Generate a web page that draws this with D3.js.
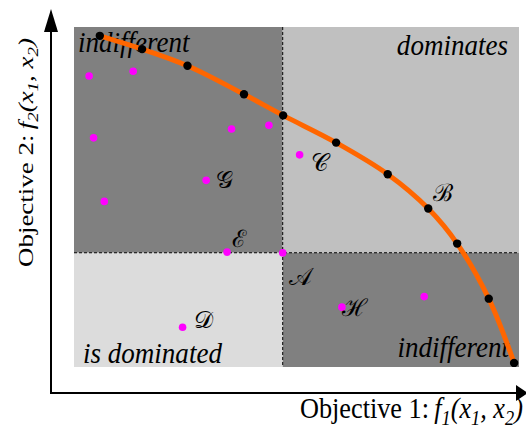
<!DOCTYPE html>
<html><head><meta charset="utf-8">
<script src="https://cdn.jsdelivr.net/npm/d3@7"></script>
<style>body{margin:0;background:#fff;} svg{display:block}</style>
</head><body>
<svg id="c" width="526" height="431"></svg>
<script>
// ---- data ----
const frontX = [0.58, 1.53, 2.55, 3.82, 4.70, 5.89, 7.05, 7.96, 8.61, 9.32, 9.89];
const frontY = [9.74, 9.35, 8.86, 8.02, 7.40, 6.60, 5.67, 4.66, 3.63, 2.01, 0.12];
const popX = [0.34, 1.33, 0.44, 0.68, 2.97, 3.54, 4.38, 5.07, 3.44, 2.44, 4.69, 6.02, 7.87];
const popY = [8.56, 8.70, 6.74, 4.87, 5.49, 7.00, 7.11, 6.24, 3.38, 1.17, 3.36, 1.76, 2.07];
const refX = 4.69, refY = 3.36;            // point A splits the space
const regionNames = ["indifferent", "dominates", "is dominated", "indifferent"];
const pointLabelNames = ["\u{1D4A2}", "\u{1D49E}", "\u2130", "\u{1D49F}", "\u{1D49C}", "\u210B"]; // G C E D A H
const pointLabelIdx = [4, 7, 8, 9, 10, 11];
const frontLabelName = "\u212C"; // B
const frontLabelIdx = 7;
const xAxisTitle = ["Objective 1:", "f", "1", "(x", "1", ", x", "2", ")"];
const yAxisTitle = ["Objective 2:", "f", "2", "(x", "1", ", x", "2", ")"];

// ---- layout ----
const svg = d3.select("#c");
const x = d3.scaleLinear().domain([0, 10]).range([74, 519]);
const y = d3.scaleLinear().domain([0, 10]).range([367, 27]);
const serif = "'Liberation Serif','Times New Roman',serif";

// regions
const regions = [
  {x0: 0, x1: refX, y0: refY, y1: 10, fill: "#808080"},
  {x0: refX, x1: 10, y0: refY, y1: 10, fill: "#c0c0c0"},
  {x0: 0, x1: refX, y0: 0, y1: refY, fill: "#dcdcdc"},
  {x0: refX, x1: 10, y0: 0, y1: refY, fill: "#808080"}
];
svg.selectAll("rect.reg").data(regions).join("rect")
  .attr("x", d => x(d.x0)).attr("y", d => y(d.y1))
  .attr("width", d => x(d.x1) - x(d.x0)).attr("height", d => y(d.y0) - y(d.y1))
  .attr("fill", d => d.fill);

// dashed separators
svg.append("line").attr("x1", x(refX)).attr("x2", x(refX)).attr("y1", y(10)).attr("y2", y(0))
  .attr("stroke", "#000").attr("stroke-width", 1).attr("stroke-dasharray", "3,2");
svg.append("line").attr("x1", x(0)).attr("x2", x(10)).attr("y1", y(refY)).attr("y2", y(refY))
  .attr("stroke", "#000").attr("stroke-width", 1).attr("stroke-dasharray", "3,2");

// region labels
const regText = [
  {t: regionNames[0], x: x(0) + 4, y: y(10) + 25, a: "start"},
  {t: regionNames[1], x: x(10) - 11, y: y(10) + 28, a: "end"},
  {t: regionNames[2], x: x(0) + 9, y: y(0) - 4, a: "start"},
  {t: regionNames[3], x: x(10) - 10, y: y(0) - 10, a: "end"}
];
svg.selectAll("text.reg").data(regText).join("text")
  .attr("transform", d => `translate(${d.x},${d.y}) scale(1.04,1.14)`)
  .attr("text-anchor", d => d.a)
  .attr("font-family", serif).attr("font-style", "italic").attr("font-size", 26)
  .attr("fill", "#000").text(d => d.t);

// Pareto front curve
const front = frontX.map((v, i) => [v, frontY[i]]);
svg.append("path").datum(front)
  .attr("d", d3.line().x(d => x(d[0])).y(d => y(d[1])).curve(d3.curveCatmullRom.alpha(0.5)))
  .attr("fill", "none").attr("stroke", "#ff6600").attr("stroke-width", 5);
svg.selectAll("circle.front").data(front).join("circle")
  .attr("cx", d => x(d[0])).attr("cy", d => y(d[1])).attr("r", 4.2).attr("fill", "#000");

// population
const pop = popX.map((v, i) => [v, popY[i]]);
svg.selectAll("circle.pop").data(pop).join("circle")
  .attr("cx", d => x(d[0])).attr("cy", d => y(d[1])).attr("r", 3.8).attr("fill", "#ff00ff");

// point labels (offsets in pixels)
const labFont = "'DejaVu Serif','DejaVu Sans',serif";
const labOff = [[10, 8], [11, 16], [5, -5], [11, 1], [6, 32], [0, 9]];
pointLabelIdx.forEach((pi, k) => {
  svg.append("text").attr("x", x(popX[pi]) + labOff[k][0]).attr("y", y(popY[pi]) + labOff[k][1])
    .attr("font-family", labFont).attr("font-size", 24).attr("font-weight", 300).attr("fill", "#000")
    .text(pointLabelNames[k]);
});
svg.append("text").attr("x", x(frontX[frontLabelIdx]) + 5).attr("y", y(frontY[frontLabelIdx]) - 8)
  .attr("font-family", labFont).attr("font-size", 24).attr("font-weight", 300).attr("fill", "#000")
  .text(frontLabelName);

// axes with arrows
const ax0 = x(0) - 23, ay0 = y(0) + 26;
svg.append("line").attr("x1", ax0).attr("y1", ay0).attr("x2", ax0).attr("y2", 30)
  .attr("stroke", "#000").attr("stroke-width", 2);
svg.append("line").attr("x1", ax0 - 1).attr("y1", ay0).attr("x2", 518).attr("y2", ay0)
  .attr("stroke", "#000").attr("stroke-width", 2);
svg.append("path").attr("d", `M${ax0},9 L${ax0 - 7},32 L${ax0 + 7},32 Z`).attr("fill", "#000");
svg.append("path").attr("d", `M528,${ay0} L516,${ay0 - 8} L516,${ay0 + 8} Z`).attr("fill", "#000");

function title(parts, g, fs) {
  const t = g.append("text").attr("font-family", serif).attr("font-size", fs).attr("fill", "#000");
  parts.forEach((p, i) => {
    const sub = (i === 2 || i === 4 || i === 6);
    const ts = t.append("tspan").text(i === 1 ? "\u2009" + p : p);
    if (i > 0) ts.attr("font-style", "italic");
    if (sub) ts.attr("font-size", fs * 0.7).attr("dy", fs * 0.25);
    else if (i > 2) ts.attr("dy", -fs * 0.25);
  });
  return t;
}
// x-axis title
const gx = svg.append("g");
const tx = title(xAxisTitle, gx, 29);
const wx = tx.node().getComputedTextLength();
gx.attr("transform", `translate(300,418) scale(${223 / wx},1)`);
// y-axis title
const gy = svg.append("g");
const ty = title(yAxisTitle, gy, 21);
const wy = ty.node().getComputedTextLength();
gy.attr("transform", `translate(33,267) rotate(-90) scale(${229 / wy},1)`);
</script>
</body></html>
